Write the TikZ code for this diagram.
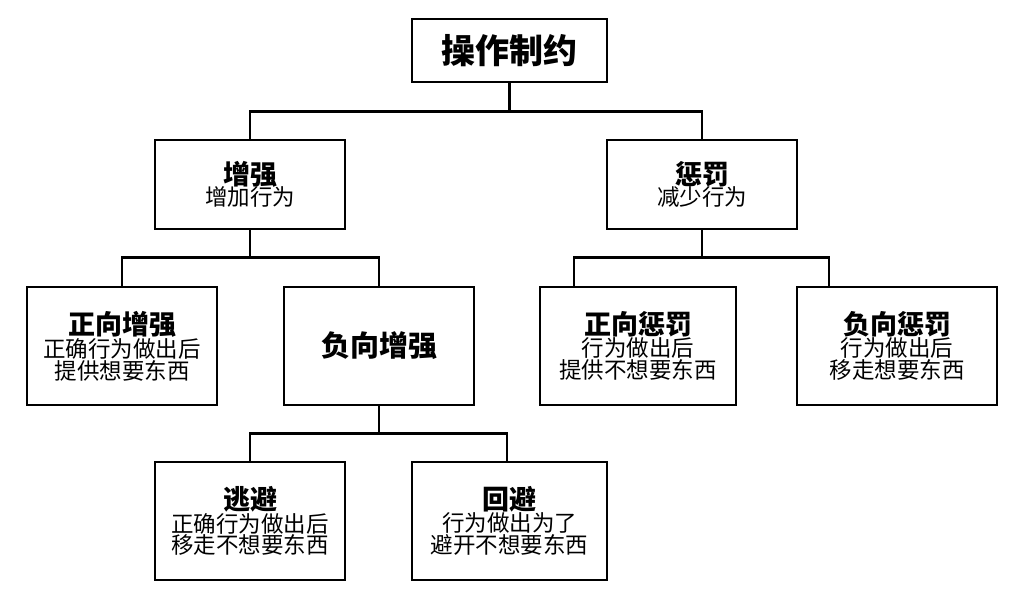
\documentclass[tikz,border=0pt]{standalone}
\usepackage{fontspec}
\setmainfont{Noto Sans CJK SC}
\newcommand{\hd}[1]{{\fontsize{27}{34}\selectfont\bfseries #1}}
\newcommand{\sbt}[1]{{\fontsize{22.5}{32}\selectfont #1}}
\begin{document}
\begin{tikzpicture}[x=1pt,y=-1pt,
  box/.style={draw,line width=2.6pt,inner sep=0pt,align=center},
  ln/.style={line width=2.6pt}]
\useasboundingbox (0,0) rectangle (1024,600);
\node[box,minimum width=195,minimum height=63,font=\fontsize{34}{38}\selectfont\bfseries] (root) at (509.5,50.5) {操作制约};
\node[box,minimum width=190,minimum height=89] (zq) at (250,184.5) {\hd{增强}\\[-2pt]\sbt{增加行为}};
\node[box,minimum width=190,minimum height=89] (cf) at (702,184.5) {\hd{惩罚}\\[-2pt]\sbt{减少行为}};
\node[box,minimum width=190,minimum height=118] (zxzq) at (122,346) {\hd{正向增强}\\\sbt{正确行为做出后}\\\sbt{提供想要东西}};
\node[box,minimum width=190,minimum height=118,font=\fontsize{29}{32}\selectfont\bfseries] (fxzq) at (379,346) {负向增强};
\node[box,minimum width=196,minimum height=118] (zxcf) at (638,346) {\hd{正向惩罚}\\\sbt{行为做出后}\\\sbt{提供不想要东西}};
\node[box,minimum width=200,minimum height=118] (fxcf) at (897,346) {\hd{负向惩罚}\\\sbt{行为做出后}\\\sbt{移走想要东西}};
\node[box,minimum width=190,minimum height=118] (tb) at (250,521) {\hd{逃避}\\\sbt{正确行为做出后}\\\sbt{移走不想要东西}};
\node[box,minimum width=195,minimum height=118] (hb) at (509.5,521) {\hd{回避}\\\sbt{行为做出为了}\\\sbt{避开不想要东西}};
\coordinate (c1) at (574,287);
\coordinate (c2) at (829,287);
\coordinate (c3) at (507,462);
\draw[ln] (root.south) -- ++(0,28) -| (zq.north);
\draw[ln] (root.south) -- ++(0,28) -| (cf.north);
\draw[ln] (zq.south) -- ++(0,27) -| (zxzq.north);
\draw[ln] (zq.south) -- ++(0,27) -| (fxzq.north);
\draw[ln] (cf.south) -- ++(0,27) -| (c1);
\draw[ln] (cf.south) -- ++(0,27) -| (c2);
\draw[ln] (fxzq.south) -- ++(0,27) -| (tb.north);
\draw[ln] (fxzq.south) -- ++(0,27) -| (c3);
\end{tikzpicture}
\end{document}
